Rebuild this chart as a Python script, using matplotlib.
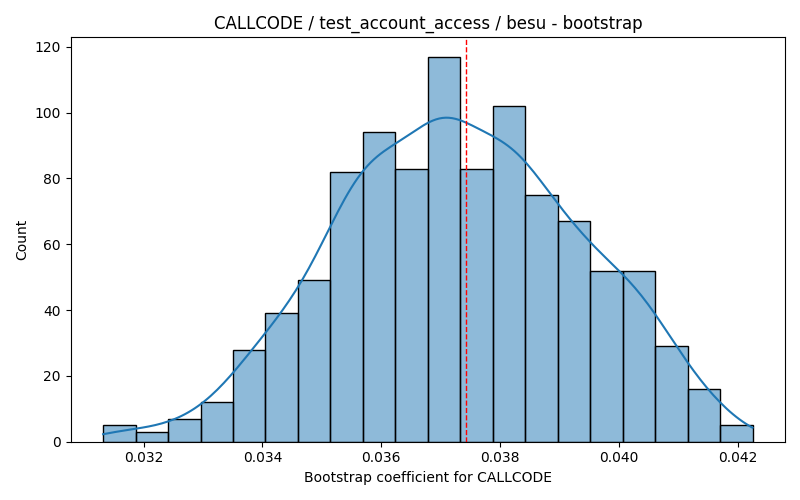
import numpy as np
import matplotlib
matplotlib.use("Agg")
import matplotlib.pyplot as plt
import seaborn as sns

# histogram: 20 equal bins
bin_start = 0.03132
bin_end = 0.04225
counts = [5, 3, 7, 12, 28, 39, 49, 82, 94, 83, 117, 83, 102, 75, 67, 52, 52, 29, 16, 5]
mean_line = 0.037425

title = "CALLCODE / test_account_access / besu - bootstrap"
xlabel = "Bootstrap coefficient for CALLCODE"

edges = np.linspace(bin_start, bin_end, len(counts) + 1)
centers = (edges[:-1] + edges[1:]) / 2
w = np.array(counts, dtype=float)

# seaborn uses the effective sample size for weighted data, so scale the
# bandwidth back to what 1000 raw samples would give
n_total = w.sum()
n_eff = n_total ** 2 / (w ** 2).sum()
bw_adjust = (n_total / n_eff) ** -0.2

fig, ax = plt.subplots(figsize=(8, 5), dpi=100)
sns.histplot(x=centers, weights=w, bins=len(counts),
             binrange=(bin_start, bin_end), kde=True,
             kde_kws={"bw_adjust": bw_adjust, "cut": 3,
                      "clip": (bin_start, bin_end)}, ax=ax)
ax.axvline(mean_line, color="red", linestyle="--", linewidth=1)
ax.set_title(title)
ax.set_xlabel(xlabel)
ax.set_ylabel("Count")
plt.tight_layout()
plt.savefig("out.png")
